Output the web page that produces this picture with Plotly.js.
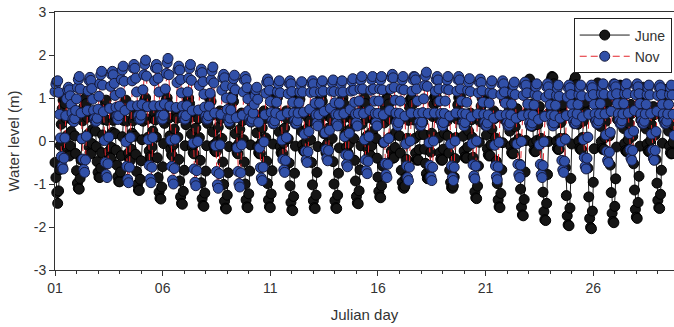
<!DOCTYPE html>
<html><head><meta charset="utf-8">
<script src="https://cdn.plot.ly/plotly-3.0.1.min.js"></script>
<style>html,body{margin:0;padding:0;background:#fff}#chart{width:674px;height:327px}</style>
</head><body><div id="chart"></div>
<script>
// Hourly water level record, starting at Julian day 01 00:00
const startDay = 1;
const samplesPerDay = 24;
const seriesNames = ['June', 'Nov'];
const xTickVals = [1, 6, 11, 16, 21, 26];
const xTickText = ['01', '06', '11', '16', '21', '26'];
const yTickVals = [-3, -2, -1, 0, 1, 2, 3];
const yTickText = ['-3', '-2', '-1', '0', '1', '2', '3'];

const june = [
-0.5,-0.85,-1.2,
-1.45,-1.16,-0.67,-0.1,0.39,0.75,0.95,1.0,0.87,0.53,0.12,-0.19,-0.32,-0.35,-0.11,0.22,0.49,0.6,0.46,0.12,-0.29,-0.69,-0.98,-1.1,
-1.12,-0.87,-0.44,0.05,0.47,0.79,0.96,1.0,0.87,0.55,0.16,-0.14,-0.27,-0.3,-0.06,0.27,0.54,0.65,0.23,-0.13,-0.48,-0.73,-0.84,
-0.85,-0.63,-0.27,0.14,0.5,0.77,0.91,0.95,0.48,0.07,-0.24,-0.37,-0.4,-0.15,0.2,0.48,0.6,0.17,-0.21,-0.56,-0.83,-0.94,
-0.95,-0.72,-0.34,0.1,0.48,0.76,0.91,0.95,0.46,0.04,-0.28,-0.42,-0.45,-0.19,0.18,0.47,0.6,0.11,-0.31,-0.71,-1.01,-1.14,
-1.15,-0.89,-0.46,0.03,0.46,0.79,0.96,1.0,0.86,0.51,0.09,-0.23,-0.37,-0.4,-0.14,0.23,0.52,0.65,0.49,0.09,-0.39,-0.85,-1.19,-1.33,
-1.35,-1.07,-0.6,-0.06,0.41,0.77,0.95,1.0,0.87,0.53,0.12,-0.19,-0.32,-0.35,-0.09,0.28,0.57,0.7,0.53,0.09,-0.43,-0.93,-1.3,-1.45,
-1.47,-1.17,-0.68,-0.11,0.38,0.75,0.95,1.0,0.87,0.55,0.16,-0.14,-0.27,-0.3,-0.05,0.3,0.58,0.7,0.52,0.08,-0.45,-0.97,-1.34,-1.5,
-1.52,-1.21,-0.7,-0.11,0.41,0.79,1.0,1.05,0.92,0.6,0.21,-0.09,-0.22,-0.25,-0.24,-0.01,0.32,0.59,0.7,0.52,0.06,-0.49,-1.01,-1.4,-1.56,
-1.58,-1.26,-0.74,-0.13,0.39,0.79,1.0,1.05,0.92,0.58,0.17,-0.14,-0.27,-0.3,-0.06,0.27,0.54,0.65,0.47,0.03,-0.49,-1.0,-1.37,-1.53,
-1.55,-1.23,-0.7,-0.09,0.44,0.84,1.05,1.1,0.96,0.61,0.19,-0.13,-0.27,-0.3,-0.29,-0.05,0.3,0.58,0.7,0.52,0.07,-0.47,-0.99,-1.37,-1.53,
-1.55,-1.23,-0.69,-0.07,0.48,0.88,1.1,1.15,1.01,0.64,0.21,-0.13,-0.27,-0.3,-0.29,-0.05,0.3,0.58,0.7,0.51,0.05,-0.51,-1.04,-1.43,-1.6,
-1.62,-1.29,-0.75,-0.12,0.42,0.83,1.05,1.1,0.97,0.63,0.22,-0.09,-0.22,-0.25,-0.24,-0.03,0.29,0.54,0.65,0.47,0.03,-0.5,-1.02,-1.39,-1.55,
-1.57,-1.26,-0.73,-0.13,0.4,0.79,1.0,1.05,0.92,0.58,0.17,-0.14,-0.27,-0.3,-0.05,0.3,0.58,0.7,0.52,0.06,-0.48,-1.0,-1.39,-1.55,
-1.57,-1.26,-0.75,-0.16,0.36,0.74,0.95,1.0,0.87,0.55,0.16,-0.14,-0.27,-0.3,-0.06,0.27,0.54,0.65,0.48,0.06,-0.45,-0.93,-1.29,-1.44,
-1.46,-1.16,-0.67,-0.11,0.39,0.75,0.95,1.0,0.87,0.53,0.12,-0.19,-0.32,-0.35,-0.34,-0.11,0.22,0.49,0.6,0.45,0.06,-0.4,-0.84,-1.17,-1.3,
-1.32,-1.04,-0.58,-0.04,0.42,0.77,0.95,1.0,0.98,0.86,0.51,0.09,-0.23,-0.37,-0.4,-0.39,-0.15,0.2,0.48,0.6,0.46,0.12,-0.28,-0.68,-0.96,-1.08,
-1.1,-1.05,-0.85,-0.43,0.06,0.48,0.79,0.96,1.0,0.98,0.86,0.49,0.06,-0.28,-0.42,-0.45,-0.44,-0.2,0.15,0.43,0.55,0.44,0.15,-0.19,-0.52,-0.76,-0.87,
-0.88,-0.84,-0.65,-0.26,0.18,0.57,0.86,1.01,1.05,1.03,0.9,0.53,0.08,-0.27,-0.42,-0.45,-0.44,-0.19,0.18,0.47,0.6,0.46,0.12,-0.28,-0.68,-0.96,-1.08,
-1.1,-1.05,-0.84,-0.41,0.08,0.51,0.84,1.01,1.05,1.03,0.91,0.54,0.11,-0.23,-0.37,-0.4,-0.39,-0.14,0.23,0.52,0.65,0.49,0.09,-0.38,-0.84,-1.18,-1.32,
-1.34,-1.05,-0.58,-0.03,0.45,0.81,1.0,1.05,1.03,0.91,0.56,0.14,-0.18,-0.32,-0.35,-0.34,-0.09,0.28,0.57,0.7,0.52,0.07,-0.47,-0.99,-1.37,-1.53,
-1.55,-1.22,-0.67,-0.04,0.51,0.93,1.15,1.2,1.18,1.05,0.68,0.23,-0.12,-0.27,-0.3,-0.29,-0.04,0.33,0.62,0.75,0.55,0.05,-0.54,-1.12,-1.54,-1.72,
-1.74,-1.36,-0.72,0.01,0.65,1.12,1.38,1.44,1.27,0.85,0.34,-0.05,-0.22,-0.25,-0.24,0.01,0.38,0.67,0.8,0.59,0.06,-0.58,-1.19,-1.64,-1.83,
-1.85,-1.45,-0.78,-0.01,0.66,1.17,1.43,1.5,1.48,1.33,0.91,0.4,0.0,-0.17,-0.2,-0.19,0.06,0.43,0.72,0.85,0.62,0.06,-0.62,-1.27,-1.74,-1.95,
-1.97,-1.56,-0.87,-0.07,0.62,1.14,1.41,1.48,1.31,0.89,0.39,0.0,-0.17,-0.2,-0.19,0.08,0.46,0.77,0.9,0.66,0.08,-0.63,-1.3,-1.8,-2.01,
-2.04,-1.63,-0.96,-0.18,0.5,1.01,1.28,1.35,1.2,0.81,0.34,-0.01,-0.17,-0.2,-0.19,0.08,0.46,0.77,0.9,0.68,0.12,-0.56,-1.2,-1.68,-1.87,
-1.9,-1.52,-0.88,-0.14,0.5,0.98,1.24,1.3,1.28,1.15,0.76,0.29,-0.06,-0.22,-0.25,-0.24,0.03,0.41,0.72,0.85,0.64,0.11,-0.53,-1.14,-1.59,-1.77,
-1.8,-1.43,-0.82,-0.12,0.49,0.95,1.19,1.25,1.1,0.73,0.28,-0.07,-0.22,-0.25,-0.24,0.01,0.38,0.67,0.8,0.61,0.14,-0.43,-0.98,-1.38,-1.55,
-1.57,-1.24,-0.68,-0.05,0.51,0.92,1.14,1.2,1.05,0.68,0.23,-0.12,-0.27,-0.3,-0.29,-0.03,0.36,0.67,0.8,0.61,0.13,-0.45
];

const nov = [
1.15,1.32,1.39,1.4,1.13,0.62,0.07,-0.36,-0.59,
-0.65,-0.4,0.07,0.59,0.98,1.19,1.25,1.19,1.05,0.85,0.65,0.51,0.45,0.52,0.71,0.98,1.24,1.43,1.5,1.21,0.65,0.05,-0.42,-0.66,
-0.73,-0.44,0.11,0.71,1.17,1.41,1.48,1.41,1.22,0.97,0.71,0.52,0.45,0.46,0.53,0.74,1.04,1.33,1.54,1.62,1.3,0.68,0.01,-0.5,-0.78,
-0.85,-0.53,0.09,0.76,1.27,1.55,1.62,1.54,1.34,1.06,0.78,0.58,0.5,0.59,0.81,1.12,1.43,1.65,1.74,1.39,0.71,-0.02,-0.59,-0.89,
-0.97,-0.61,0.08,0.82,1.4,1.7,1.78,1.69,1.46,1.14,0.82,0.59,0.5,0.51,0.6,0.85,1.19,1.54,1.78,1.88,1.51,0.8,0.03,-0.57,-0.88,
-0.97,-0.61,0.08,0.82,1.4,1.7,1.78,1.69,1.46,1.14,0.82,0.59,0.5,0.51,0.6,0.86,1.21,1.57,1.82,1.92,1.54,0.81,0.02,-0.59,-0.91,
-1.0,-0.64,0.04,0.78,1.36,1.66,1.74,1.65,1.43,1.12,0.81,0.59,0.5,0.51,0.59,0.82,1.14,1.46,1.69,1.78,1.41,0.71,-0.05,-0.65,-0.96,
-1.04,-0.69,-0.01,0.72,1.29,1.59,1.67,1.59,1.38,1.09,0.79,0.58,0.5,0.51,0.59,0.81,1.11,1.42,1.63,1.72,1.35,0.65,-0.11,-0.71,-1.02,
-1.1,-0.76,-0.09,0.62,1.18,1.47,1.55,1.47,1.28,1.0,0.73,0.53,0.45,0.53,0.72,0.99,1.26,1.45,1.53,1.19,0.54,-0.16,-0.71,-0.99,
-1.07,-0.74,-0.09,0.6,1.14,1.42,1.5,1.43,1.24,0.98,0.71,0.52,0.45,0.46,0.51,0.65,0.85,1.05,1.19,1.25,0.97,0.43,-0.16,-0.62,-0.86,
-0.92,-0.61,-0.02,0.61,1.11,1.37,1.44,1.37,1.18,0.92,0.66,0.47,0.4,0.41,0.47,0.65,0.9,1.15,1.33,1.4,1.12,0.59,0.02,-0.43,-0.67,
-0.73,-0.45,0.08,0.65,1.1,1.34,1.4,1.33,1.15,0.9,0.65,0.47,0.4,0.41,0.47,0.65,0.89,1.14,1.31,1.38,1.14,0.67,0.16,-0.24,-0.44,
-0.5,-0.25,0.22,0.74,1.13,1.34,1.4,1.33,1.14,0.88,0.61,0.42,0.35,0.61,0.88,1.14,1.33,1.4,1.16,0.69,0.19,-0.2,-0.4,
-0.46,-0.22,0.25,0.76,1.16,1.36,1.42,1.15,0.89,0.62,0.42,0.35,0.61,0.88,1.14,1.33,1.4,1.14,0.64,0.1,-0.32,-0.54,
-0.6,-0.33,0.18,0.73,1.16,1.39,1.45,1.18,0.9,0.63,0.43,0.35,0.64,0.93,1.21,1.42,1.5,1.21,0.64,0.03,-0.44,-0.69,
-0.76,-0.47,0.1,0.71,1.18,1.43,1.5,1.21,0.93,0.64,0.43,0.35,0.64,0.93,1.21,1.42,1.5,1.19,0.61,-0.03,-0.52,-0.78,
-0.85,-0.54,0.06,0.71,1.21,1.48,1.55,1.47,1.25,0.95,0.65,0.43,0.35,0.43,0.64,0.93,1.21,1.42,1.5,1.19,0.58,-0.07,-0.58,-0.85,
-0.92,-0.61,0.0,0.65,1.16,1.43,1.5,1.49,1.42,1.21,0.93,0.64,0.43,0.35,0.36,0.44,0.66,0.98,1.29,1.51,1.6,1.27,0.64,-0.04,-0.57,-0.84,
-0.92,-0.61,0.0,0.65,1.16,1.43,1.5,1.42,1.21,0.93,0.64,0.43,0.35,0.43,0.64,0.93,1.21,1.42,1.5,1.19,0.58,-0.07,-0.58,-0.85,
-0.92,-0.61,0.0,0.65,1.16,1.43,1.5,1.42,1.21,0.93,0.64,0.43,0.35,0.43,0.63,0.9,1.18,1.37,1.45,1.15,0.56,-0.06,-0.55,-0.81,
-0.88,-0.58,0.0,0.63,1.12,1.37,1.44,1.36,1.17,0.9,0.62,0.43,0.35,0.36,0.42,0.61,0.88,1.14,1.33,1.4,1.1,0.53,-0.1,-0.58,-0.83,
-0.9,-0.6,-0.03,0.6,1.08,1.33,1.4,1.33,1.14,0.88,0.61,0.42,0.35,0.36,0.42,0.61,0.86,1.12,1.3,1.37,1.08,0.53,-0.07,-0.54,-0.78,
-0.85,-0.56,-0.01,0.59,1.06,1.3,1.37,1.3,1.12,0.86,0.61,0.42,0.35,0.36,0.42,0.6,0.84,1.09,1.26,1.33,1.05,0.5,-0.09,-0.54,-0.78,
-0.85,-0.57,-0.02,0.57,1.02,1.26,1.33,1.26,1.09,0.84,0.6,0.42,0.35,0.42,0.59,0.83,1.06,1.23,1.3,1.04,0.53,-0.02,-0.45,-0.67,
-0.73,-0.47,0.04,0.59,1.02,1.24,1.3,1.24,1.08,0.85,0.63,0.46,0.4,0.41,0.46,0.63,0.85,1.08,1.24,1.3,1.05,0.56,0.03,-0.38,-0.59,
-0.65,-0.4,0.09,0.62,1.03,1.24,1.3,1.24,1.08,0.85,0.63,0.46,0.4,0.41,0.47,0.63,0.87,1.1,1.26,1.33,1.09,0.63,0.14,-0.24,-0.45,
-0.5,-0.26,0.2,0.69,1.07,1.27,1.33,1.32,1.26,1.1,0.87,0.63,0.47,0.4,0.41,0.47,0.63,0.87,1.1,1.26,1.33,1.1,0.65,0.17,-0.2,-0.4,
-0.45,-0.22,0.23,0.71,1.08,1.28,1.33,1.26,1.1,0.87,0.63,0.47,0.4,0.41,0.46,0.63,0.85,1.08,1.24,1.3,1.07,0.64,0.16,-0.21,-0.4,
-0.45,-0.22,0.22,0.69,1.06,1.25,1.3,1.24,1.08,0.85,0.63,0.46,0.4,0.41,0.46,0.63,0.85,1.08,1.24,1.3,1.07,0.62,0.13,-0.25,-0.45,-0.5,-0.3,0.15
];

// sampling grid (Julian day of each hourly reading)
const timeGrid = n => Array.from({length: n}, (_, i) => startDay + i / samplesPerDay);

const traces = [
  {
    name: seriesNames[0], x: timeGrid(june.length), y: june,
    type: 'scatter', mode: 'lines+markers', cliponaxis: false,
    line: {color: '#1c1c1c', width: 1},
    marker: {size: 10, color: '#151515', line: {color: '#000000', width: 1}}
  },
  {
    name: seriesNames[1], x: timeGrid(nov.length), y: nov,
    type: 'scatter', mode: 'lines+markers', cliponaxis: false,
    line: {color: '#e3242b', width: 1, dash: '7px,4px'},
    marker: {size: 10, color: '#3150a8', line: {color: '#151a3c', width: 1}}
  }
];

const axisCommon = {
  ticks: 'outside', ticklen: 5, tickwidth: 1, tickcolor: '#333',
  showline: true, linecolor: '#333', linewidth: 1,
  showgrid: false, zeroline: false,
  tickfont: {size: 14, color: '#333'}
};

const layout = {
  width: 674, height: 327,
  margin: {l: 55, r: 0, t: 12, b: 57},
  paper_bgcolor: '#ffffff', plot_bgcolor: '#ffffff',
  font: {family: 'Liberation Sans, Arial, sans-serif', size: 14, color: '#333'},
  showlegend: true,
  legend: {
    x: 0.838, y: 0.975, xanchor: 'left', yanchor: 'top',
    bordercolor: '#222', borderwidth: 1, bgcolor: '#ffffff',
    font: {size: 14, color: '#333'}, tracegroupgap: 0, itemwidth: 50
  },
  xaxis: Object.assign({}, axisCommon, {
    range: [1, 29.75], tickmode: 'array', tickvals: xTickVals, ticktext: xTickText,
    mirror: true,
    minor: {tickmode: 'linear', tick0: 1, dtick: 1, ticks: 'outside', ticklen: 3, tickcolor: '#333', showgrid: false},
    title: {text: 'Julian day', font: {size: 15, color: '#333'}, standoff: 14}
  }),
  yaxis: Object.assign({}, axisCommon, {
    range: [-3, 3], tickmode: 'array', tickvals: yTickVals, ticktext: yTickText,
    title: {text: 'Water level (m)', font: {size: 15, color: '#333'}, standoff: 10}
  })
};

Plotly.newPlot('chart', traces, layout, {displayModeBar: false, staticPlot: true});
</script>
</body></html>
